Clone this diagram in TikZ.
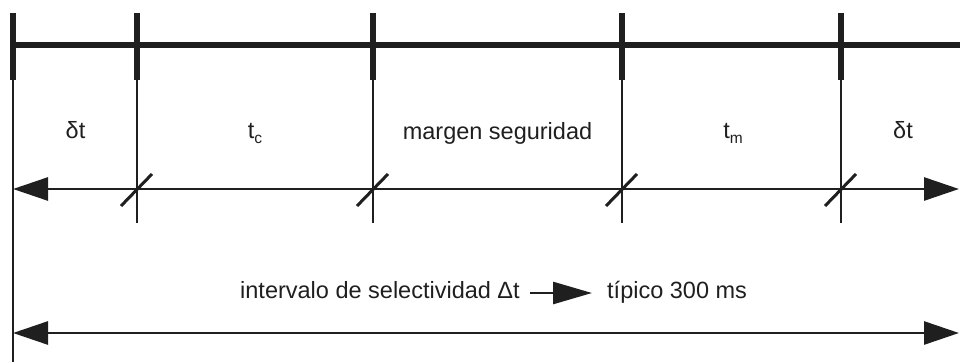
\documentclass[tikz,border=0pt]{standalone}
\usepackage{fontspec}
\setmainfont{Liberation Sans}
\usetikzlibrary{arrows.meta}
\newcommand{\lowidx}[1]{\raisebox{-5pt}{\fontsize{15.5}{16}\selectfont #1}}
\begin{document}
\begin{tikzpicture}[x=1pt,y=-1pt,
  thickline/.style={line width=5.5pt,black!88},
  thinline/.style={line width=2.7pt,black!88},
  bigtip/.style={-{Triangle[length=35pt,width=23pt]}},
  lbl/.style={font=\fontsize{23.5}{26}\selectfont,text=black!88,inner sep=0pt,anchor=base},
  slash/.style={line width=3pt,black!88}]
\useasboundingbox (0,0) rectangle (960,363);
% vertical division coordinates
\foreach \n/\x in {a/13,b/137,c/373,d/622,e/841}{
  \coordinate (\n top) at (\x,13);
  \coordinate (\n mid) at (\x,80);
  \coordinate (\n arr) at (\x,189);
  \coordinate (\n end) at (\x,223);
}
\coordinate (aend) at (13,362);
\coordinate (topL) at (13,45);
\coordinate (topR) at (960,45);
\coordinate (arrR) at (959,189);
\coordinate (botL) at (13,333);
\coordinate (botR) at (959,333);
% top thick line
\draw[thickline] (topL) -- (topR);
% thick top parts of verticals
\foreach \n in {a,b,c,d,e}{
  \draw[thickline] (\n top) -- (\n mid);
}
% thin lower parts
\draw[thinline] (amid) -- (aend);
\foreach \n in {b,c,d,e}{
  \draw[thinline] (\n mid) -- (\n end);
}
% middle double arrow
\draw[thinline,bigtip] (barr) -- (aarr);
\draw[thinline] (barr) -- (earr);
\draw[thinline,bigtip] (earr) -- (arrR);
% slashes
\foreach \n in {b,c,d,e}{
  \draw[slash] ([shift={(-16,17)}]\n arr) -- ([shift={(15,-15)}]\n arr);
}
% bottom double arrow
\draw[thinline,{Triangle[length=35pt,width=23pt]}-{Triangle[length=35pt,width=23pt]}] (botL) -- (botR);
% labels
\node[lbl] (l1) at (75.5,139) {δt};
\node[lbl] (l2) at (255,139) {t\lowidx{c}};
\node[lbl] (l3) at (497.5,140) {margen seguridad};
\node[lbl] (l4) at (733,139) {t\lowidx{m}};
\node[lbl] (l5) at (903,139) {δt};
% bottom text
\node[lbl,anchor=base west] (t1) at (240,298) {intervalo de selectividad Δt};
\node[lbl,anchor=base west] (t2) at (607,298) {típico 300 ms};
\coordinate (s1) at (530,293);
\coordinate (s2) at (592,293);
\draw[thinline,-{Triangle[length=39pt,width=22pt]}] (s1) -- (s2);
\end{tikzpicture}
\end{document}
